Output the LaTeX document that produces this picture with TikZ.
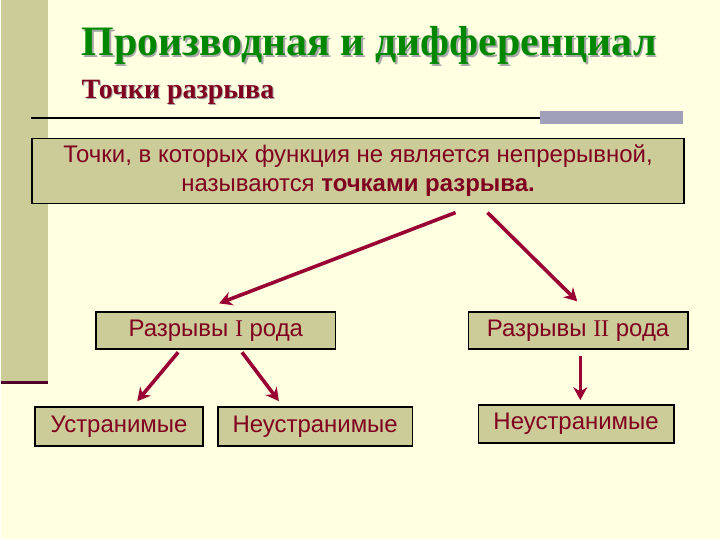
\documentclass[tikz,border=0pt]{standalone}
\usepackage{fontspec}
\setmainfont{Liberation Serif}
\setsansfont{Liberation Sans}
\usetikzlibrary{arrows.meta}
\definecolor{bg}{RGB}{255,255,225}
\definecolor{olive}{RGB}{204,204,153}
\definecolor{maroon}{RGB}{128,0,32}
\definecolor{arr}{RGB}{153,0,51}
\definecolor{grn}{RGB}{0,135,0}
\definecolor{gbar}{RGB}{160,160,185}
\begin{document}
\begin{tikzpicture}[x=1pt,y=-1pt,
  box/.style={draw=black,line width=1.6pt,fill=olive,text=maroon,font=\sffamily\fontsize{24}{28}\selectfont,inner sep=0pt,anchor=north west},
  conn/.style={draw=arr,line width=3.6pt,-{Stealth[length=13pt,width=14pt]}}]
\fill[bg] (0,0) rectangle (720,540);
\fill[olive] (0,0) rectangle (47,383);
\draw[line width=3pt,color={rgb,255:red,80;green,0;blue,40}] (0,383) -- (47,383);
\node[anchor=base west,text=black!35,font=\bfseries\fontsize{42}{44}\selectfont,inner sep=0pt] at (81.5,57.5) {Производная и дифференциал};
\node[anchor=base west,text=grn,font=\bfseries\fontsize{42}{44}\selectfont,inner sep=0pt] (title) at (80,56) {Производная и дифференциал};
\node[anchor=base west,text=black!35,font=\bfseries\fontsize{28}{30}\selectfont,inner sep=0pt] at (81,100) {Точки разрыва};
\node[anchor=base west,text=maroon,font=\bfseries\fontsize{28}{30}\selectfont,inner sep=0pt] (sub) at (80,99) {Точки разрыва};
\draw[line width=1.5pt] (30,118) -- (540,118);
\fill[gbar] (540,111) rectangle (683,124);
\node[box,minimum width=653pt,minimum height=65pt,align=center] (top) at (30,138) {Точки, в которых функция не является непрерывной,\\[1pt]называются \textbf{точками разрыва.}};
\node[box,minimum width=240pt,minimum height=37pt,anchor=north west] (r1) at (94,312) {Разрывы {\rmfamily I} рода};
\node[box,minimum width=220pt,minimum height=37pt] (r2) at (467,312) {Разрывы {\rmfamily II} рода};
\node[box,minimum width=168pt,minimum height=39pt] (u1) at (33,407) {Устранимые};
\node[box,minimum width=195pt,minimum height=39pt] (n1) at (216,407) {Неустранимые};
\node[box,minimum width=196pt,minimum height=38pt] (n2) at (477,405) {Неустранимые};
\coordinate (a1) at (455,213); \coordinate (b1) at (218,304);
\coordinate (a2) at (487,213); \coordinate (b2) at (577,302);
\coordinate (a3) at (177,353); \coordinate (b3) at (136,402);
\coordinate (a4) at (241,353); \coordinate (b4) at (278,402);
\coordinate (a5) at (580,357); \coordinate (b5) at (580,401);
\draw[conn] (a1) -- (b1);
\draw[conn] (a2) -- (b2);
\draw[conn] (a3) -- (b3);
\draw[conn] (a4) -- (b4);
\draw[conn] (a5) -- (b5);
\end{tikzpicture}
\end{document}
